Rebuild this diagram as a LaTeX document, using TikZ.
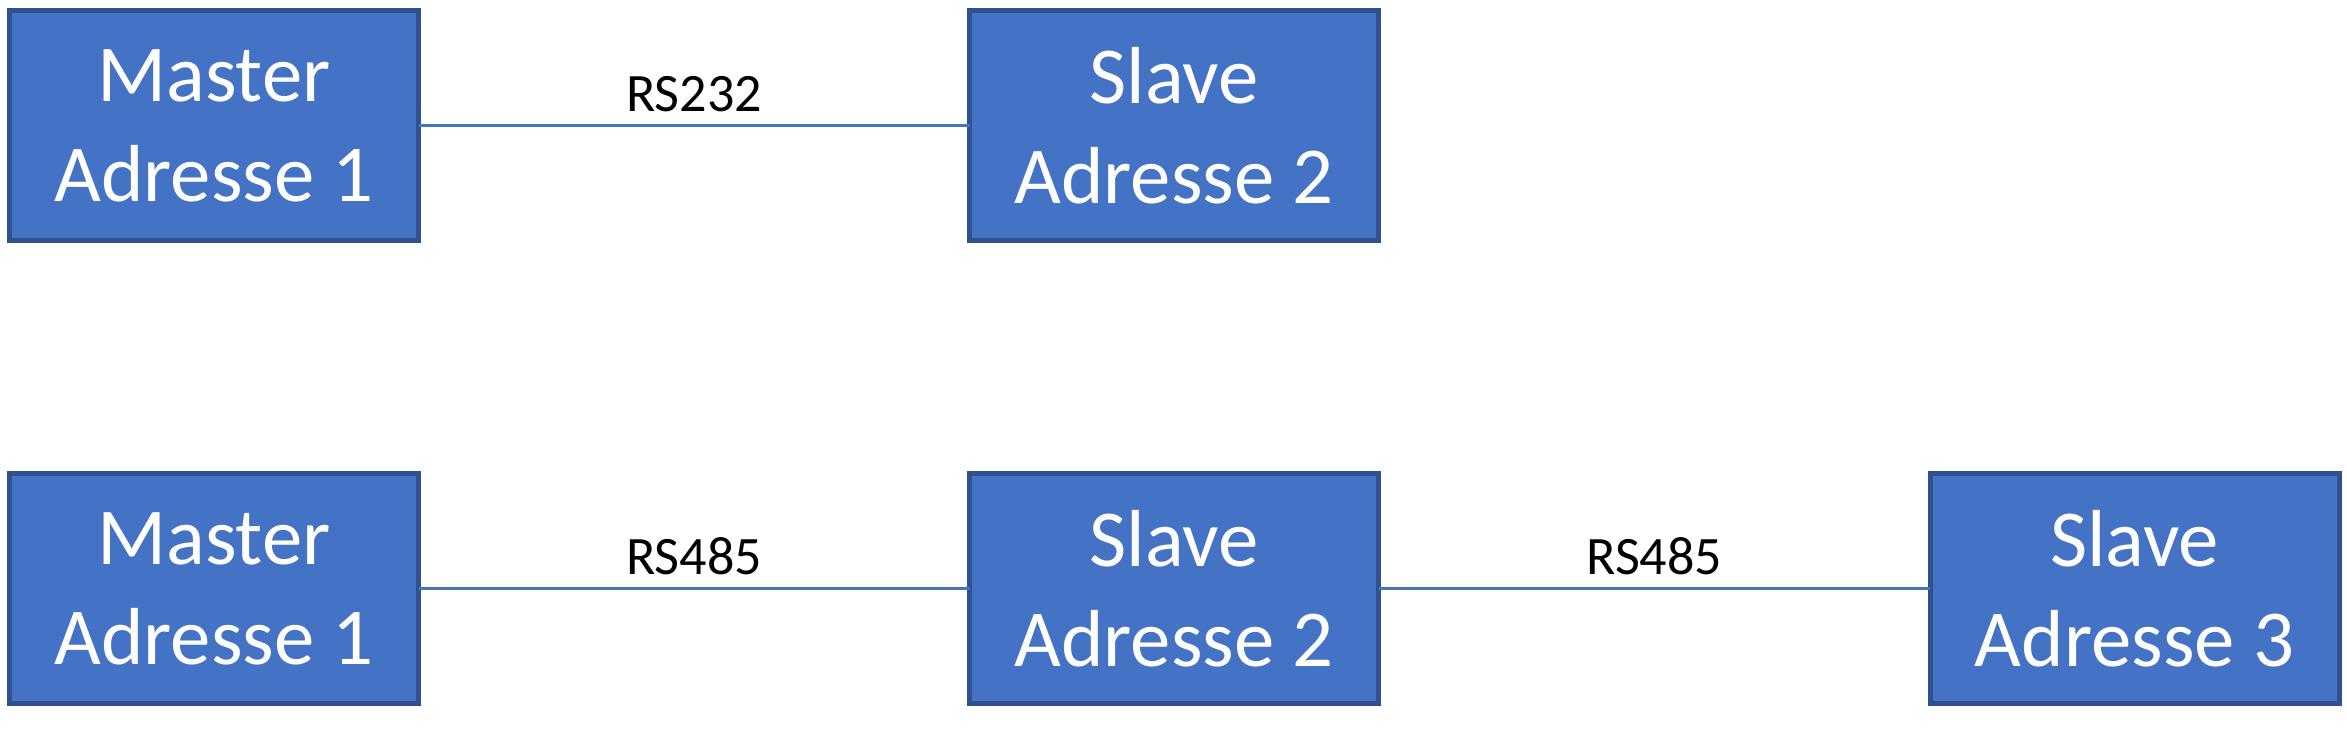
\documentclass[tikz,border=0pt]{standalone}
\usepackage{fontspec}
\setmainfont{Carlito}
\usepackage{xcolor}
\usetikzlibrary{positioning}
\definecolor{boxfill}{HTML}{4472C4}
\definecolor{boxline}{HTML}{2F528F}
\definecolor{wire}{HTML}{4472C4}

\begin{document}
\begin{tikzpicture}[
    B/.style={rectangle, minimum width=4.09cm, minimum height=2.30cm, align=center,
              font=\fontsize{23}{28.4}\selectfont, draw=boxline, fill=boxfill, text=white,
              line width=0.05cm, outer sep=0pt},
    A/.style={line width=0.6pt, color=#1},
    L/.style={font=\fontsize{15.4}{18}\selectfont, text=black, midway, inner sep=0.13cm}
]
\useasboundingbox (0,0) rectangle (23.47,7.37);

% === ROW 1: RS232 ===
\node[B] (m1) at (2.14,6.115) {Master\\Adresse 1};
\node[B] (s1) at (11.74,6.115) {Slave\\Adresse 2};

\draw[A=wire] (m1) -- (s1) node[L,above] {RS232};

% === ROW 2: RS485 ===
\node[B] (m2) at (2.14,1.485) {Master\\Adresse 1};
\node[B] (s2) at (11.74,1.485) {Slave\\Adresse 2};
\node[B] (s3) at (21.345,1.485) {Slave\\Adresse 3};

\draw[A=wire] (m2) -- (s2) node[L,above] {RS485};
\draw[A=wire] (s2) -- (s3) node[L,above] {RS485};

\end{tikzpicture}
\end{document}
